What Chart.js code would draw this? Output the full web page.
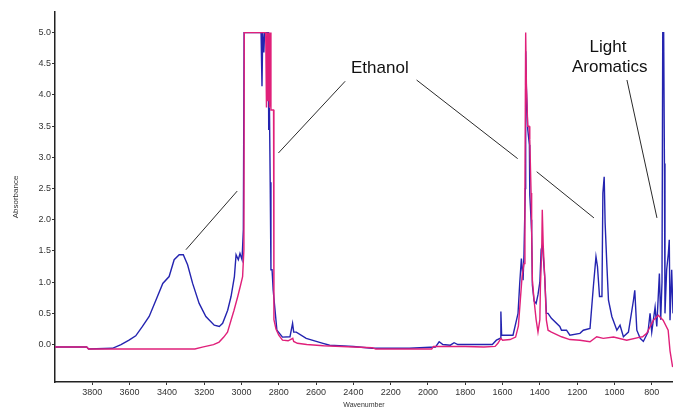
<!DOCTYPE html>
<html>
<head>
<meta charset="utf-8">
<script src="https://cdn.jsdelivr.net/npm/chart.js@4/dist/chart.umd.min.js"></script>
<style>
  html, body { margin: 0; padding: 0; background: #ffffff; }
  #wrap { width: 673px; height: 409px; }
</style>
</head>
<body>
<div id="wrap"><canvas id="c" width="673" height="409"></canvas></div>
<script>
// ---------- DATA ----------
const xTickValues = [3800, 3600, 3400, 3200, 3000, 2800, 2600, 2400, 2200, 2000, 1800, 1600, 1400, 1200, 1000, 800];
const yTickValues = [0, 0.5, 1, 1.5, 2, 2.5, 3, 3.5, 4, 4.5, 5];

// Blue spectrum (wavenumber, absorbance)
const blueWavenumber = [4000, 3830, 3820, 3692, 3646, 3603, 3567, 3531, 3495, 3459, 3422, 3388, 3361, 3334, 3312, 3289, 3262, 3227, 3191, 3146, 3119, 3101, 3074, 3056, 3038, 3029, 3017, 3008, 2997, 2990, 2986, 2895, 2890, 2886, 2880, 2876, 2856, 2854, 2850, 2846, 2842, 2836, 2830, 2820, 2810, 2780, 2740, 2726, 2720, 2706, 2653, 2563, 2527, 2400, 2300, 2100, 1960, 1940, 1920, 1880, 1860, 1840, 1780, 1655, 1633, 1612, 1609, 1605, 1597, 1544, 1517, 1508, 1499, 1490, 1485, 1478, 1476, 1472, 1465, 1456, 1454, 1447, 1444, 1440, 1431, 1420, 1410, 1400, 1393, 1386, 1374, 1365, 1356, 1338, 1293, 1284, 1257, 1239, 1185, 1167, 1131, 1113, 1099, 1091, 1080, 1067, 1062, 1055, 1050, 1041, 1032, 1014, 987, 970, 952, 925, 898, 891, 880, 862, 845, 820, 809, 800, 782, 773, 759, 752, 745, 741, 736, 732, 729, 720, 711, 706, 702, 693, 686];
const blueAbsorbance = [-0.04, -0.04, -0.07, -0.06, 0, 0.07, 0.14, 0.29, 0.45, 0.71, 0.98, 1.09, 1.36, 1.44, 1.44, 1.28, 0.98, 0.66, 0.45, 0.31, 0.29, 0.34, 0.55, 0.77, 1.09, 1.44, 1.36, 1.46, 1.36, 1.84, 5.0, 5.0, 4.14, 5.0, 4.68, 5.0, 5.0, 3.44, 3.8, 2.6, 1.2, 1.2, 0.87, 0.55, 0.23, 0.12, 0.125, 0.34, 0.2, 0.2, 0.1, 0.02, -0.01, -0.03, -0.06, -0.06, -0.04, 0.045, 0.0, -0.01, 0.03, 0.0, 0.0, 0.0, 0.07, 0.1, 0.53, 0.15, 0.15, 0.15, 0.5, 0.98, 1.38, 1.03, 1.46, 2.5, 4.7, 4.1, 3.45, 3.2, 2.4, 2.0, 1.8, 0.95, 0.7, 0.66, 0.8, 1.0, 1.52, 1.6, 1.09, 0.5, 0.5, 0.42, 0.29, 0.23, 0.23, 0.15, 0.18, 0.23, 0.26, 0.93, 1.41, 1.25, 0.77, 0.77, 2.43, 2.69, 1.95, 1.3, 0.71, 0.45, 0.23, 0.31, 0.125, 0.2, 0.71, 0.87, 0.23, 0.1, 0.05, 0.2, 0.5, 0.2, 0.6, 0.29, 1.14, 0.4, 1.0, 5.0, 5.0, 2.9, 0.5, 1.2, 1.46, 1.68, 0.39, 1.2, 0.5];

// Magenta spectrum (wavenumber, absorbance)
const pinkWavenumber = [4000, 3830, 3820, 3250, 3210, 3150, 3120, 3095, 3075, 3056, 3040, 3020, 3005, 2994, 2987, 2985, 2870, 2866, 2862, 2858, 2854, 2850, 2846, 2842, 2828, 2826, 2815, 2800, 2780, 2750, 2725, 2720, 2700, 2650, 2560, 2300, 2280, 1980, 1970, 1800, 1700, 1640, 1625, 1609, 1600, 1560, 1530, 1515, 1505, 1495, 1485, 1480, 1476, 1472, 1469, 1465, 1458, 1454, 1447, 1444, 1440, 1431, 1420, 1410, 1400, 1397, 1390, 1387, 1382, 1374, 1365, 1356, 1338, 1284, 1239, 1185, 1131, 1095, 1060, 1005, 934, 862, 849, 827, 791, 765, 739, 712, 702, 688];
const pinkAbsorbance = [-0.04, -0.04, -0.07, -0.07, -0.04, 0, 0.04, 0.12, 0.2, 0.39, 0.55, 0.77, 0.95, 1.09, 1.52, 5.0, 5.0, 3.8, 5.0, 3.9, 5.0, 3.8, 5.0, 3.76, 3.76, 0.4, 0.25, 0.15, 0.07, 0.06, 0.1, 0.05, 0.02, 0.0, -0.02, -0.05, -0.07, -0.07, -0.03, -0.03, -0.04, -0.03, 0.02, 0.1, 0.07, 0.08, 0.12, 0.3, 0.7, 1.1, 1.3, 2.5, 5.0, 4.14, 4.14, 3.5, 3.5, 3.28, 2.43, 1.84, 1.03, 0.71, 0.4, 0.2, 0.4, 0.93, 1.5, 2.16, 1.6, 1.09, 0.39, 0.23, 0.2, 0.125, 0.08, 0.07, 0.045, 0.125, 0.1, 0.12, 0.07, 0.12, 0.125, 0.18, 0.39, 0.47, 0.39, 0.23, -0.1, -0.36];

// Annotation callouts in data units: [wn1, abs1, wn2, abs2]
const calloutLines = [
  [3298, 1.52, 3023, 2.46],
  [2802, 3.07, 2444, 4.22],
  [2061, 4.24, 1519, 2.98],
  [1417, 2.77, 1110, 2.03],
  [933, 4.24, 772, 2.03]
];
const calloutTexts = [
  ['Ethanol', 2258, 4.43],
  ['Light', 1035, 4.76],
  ['Aromatics', 1025, 4.44]
];

// ---------- CHART ----------
const toPoints = (xs, ys) => xs.map((v, i) => ({ x: v, y: ys[i] }));

const calloutPlugin = {
  id: 'callouts',
  afterDatasetsDraw(chart) {
    const { ctx, scales: { x, y } } = chart;
    ctx.save();
    ctx.strokeStyle = '#2a2a2a';
    ctx.lineWidth = 1;
    calloutLines.forEach(([w1, a1, w2, a2]) => {
      ctx.beginPath();
      ctx.moveTo(x.getPixelForValue(w1), y.getPixelForValue(a1));
      ctx.lineTo(x.getPixelForValue(w2), y.getPixelForValue(a2));
      ctx.stroke();
    });
    ctx.fillStyle = '#111';
    ctx.font = '17px "Liberation Sans", Arial, sans-serif';
    ctx.textAlign = 'center';
    ctx.textBaseline = 'middle';
    calloutTexts.forEach(([t, w, a]) => {
      ctx.fillText(t, x.getPixelForValue(w), y.getPixelForValue(a));
    });
    ctx.restore();
  }
};

const tickFont = { family: '"Liberation Sans", Arial, sans-serif', size: 9 };

new Chart(document.getElementById('c'), {
  type: 'line',
  data: {
    datasets: [
      {
        label: 'Sample B',
        data: toPoints(pinkWavenumber, pinkAbsorbance),
        borderColor: '#e0207a',
        borderWidth: 1.4,
        pointRadius: 0,
        tension: 0
      },
      {
        label: 'Sample A',
        data: toPoints(blueWavenumber, blueAbsorbance),
        borderColor: '#2424b0',
        borderWidth: 1.4,
        pointRadius: 0,
        tension: 0
      }
    ]
  },
  options: {
    responsive: false,
    devicePixelRatio: 1,
    animation: false,
    layout: { padding: { top: 12, left: 0, right: 0, bottom: 0 } },
    plugins: { legend: { display: false }, tooltip: { enabled: false } },
    scales: {
      x: {
        type: 'linear',
        reverse: true,
        min: 686,
        max: 4000,
        afterBuildTicks: s => { s.ticks = xTickValues.map(v => ({ value: v })); },
        afterFit: s => { s.height = 27; },
        ticks: { font: tickFont, color: '#333', padding: 2, maxRotation: 0, callback: v => String(v) },
        grid: { drawOnChartArea: false, tickLength: 3, color: '#333' },
        border: { display: true, color: '#222', width: 1.5 },
        title: { display: true, text: 'Wavenumber', font: { family: '"Liberation Sans", Arial, sans-serif', size: 7 }, color: '#333', padding: { top: 0, bottom: 0 } }
      },
      y: {
        type: 'linear',
        min: -0.6,
        max: 5.33,
        afterBuildTicks: s => { s.ticks = yTickValues.map(v => ({ value: v })); },
        afterFit: s => { s.width = 55; },
        ticks: { font: tickFont, color: '#333', padding: 1, callback: v => Number(v).toFixed(1) },
        grid: { drawOnChartArea: false, tickLength: 3, color: '#333' },
        border: { display: true, color: '#222', width: 1.5 },
        title: { display: true, text: 'Absorbance', font: { family: '"Liberation Sans", Arial, sans-serif', size: 8 }, color: '#333', padding: { top: 11, bottom: 0 } }
      }
    }
  },
  plugins: [calloutPlugin]
});
</script>
</body>
</html>
